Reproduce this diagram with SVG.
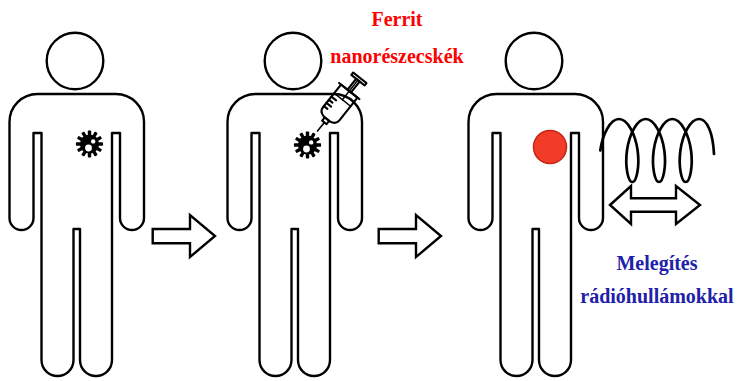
<svg xmlns="http://www.w3.org/2000/svg" xmlns:xlink="http://www.w3.org/1999/xlink" width="738" height="381" viewBox="0 0 738 381">
  <style>
    .outline { fill: #fff; stroke: #000; stroke-width: 2.4; stroke-linejoin: round; }
    .line { fill: none; stroke: #000; stroke-width: 2.1; stroke-linecap: round; stroke-linejoin: round; }
    .arrow { fill: #fff; stroke: #000; stroke-width: 2.4; stroke-linejoin: miter; }
    .coil { fill: none; stroke: #000; stroke-width: 2.7; stroke-linecap: round; }
    .label { font-family: "Liberation Serif", "Times New Roman", serif; font-weight: bold; font-size: 20px; text-anchor: middle; }
    .red { fill: #ff0000; }
    .blue { fill: #2020a8; }
  </style>
  <defs>
    <!-- standing person: head + one closed body outline -->
    <g id="person">
      <circle class="outline" cx="75" cy="61" r="28.3"/>
      <path class="outline" d="M37.5,94 H116 A28,28 0 0 1 144,122 V218 A12,12 0 0 1 120,218 V133 H112 V360 A16,16 0 0 1 80,360 V229 H73.5 V360 A16,16 0 0 1 41.5,360 V133 H33.5 V218 A12,12 0 0 1 9.5,218 V122 A28,28 0 0 1 37.5,94 Z"/>
    </g>
    <!-- germ / cell icon: cog with two holes -->
    <g id="germ">
      <circle r="9.6" fill="#000"/>
      <g fill="#000">
        <rect x="-1.7" y="-13.6" width="3.4" height="6" rx="0.8"/>
        <rect x="-1.7" y="-13.6" width="3.4" height="6" rx="0.8" transform="rotate(30)"/>
        <rect x="-1.7" y="-13.6" width="3.4" height="6" rx="0.8" transform="rotate(60)"/>
        <rect x="-1.7" y="-13.6" width="3.4" height="6" rx="0.8" transform="rotate(90)"/>
        <rect x="-1.7" y="-13.6" width="3.4" height="6" rx="0.8" transform="rotate(120)"/>
        <rect x="-1.7" y="-13.6" width="3.4" height="6" rx="0.8" transform="rotate(150)"/>
        <rect x="-1.7" y="-13.6" width="3.4" height="6" rx="0.8" transform="rotate(180)"/>
        <rect x="-1.7" y="-13.6" width="3.4" height="6" rx="0.8" transform="rotate(210)"/>
        <rect x="-1.7" y="-13.6" width="3.4" height="6" rx="0.8" transform="rotate(240)"/>
        <rect x="-1.7" y="-13.6" width="3.4" height="6" rx="0.8" transform="rotate(270)"/>
        <rect x="-1.7" y="-13.6" width="3.4" height="6" rx="0.8" transform="rotate(300)"/>
        <rect x="-1.7" y="-13.6" width="3.4" height="6" rx="0.8" transform="rotate(330)"/>
      </g>
      <circle cx="-1" cy="4" r="3.4" fill="#fff"/>
      <circle cx="3.7" cy="-2.6" r="2.2" fill="#fff"/>
    </g>
  </defs>

  <!-- patient before treatment -->
  <g id="person-1">
    <use xlink:href="#person"/>
    <use xlink:href="#germ" x="89.5" y="144"/>
  </g>

  <!-- patient receiving the injection -->
  <g id="person-2">
    <use xlink:href="#person" transform="translate(218,0)"/>
    <use xlink:href="#germ" x="307.5" y="145"/>
  </g>

  <!-- syringe, drawn along its own axis from the needle tip -->
  <g id="syringe" class="line" transform="translate(317.5,131) rotate(-51.5)">
    <line x1="0" y1="0" x2="11" y2="0" stroke-width="1.6"/>
    <rect x="11" y="-2.8" width="4.2" height="5.6"/>
    <path d="M15.2,-3.8 Q16.5,-10.5 22,-10.5 H51 V10.5 H22 Q16.5,10.5 15.2,3.8 Z"/>
    <line x1="23.5" y1="-10.5" x2="23.5" y2="-6"/>
    <line x1="27.5" y1="-10.5" x2="27.5" y2="-4.5"/>
    <line x1="31.5" y1="-10.5" x2="31.5" y2="-6"/>
    <line x1="35.5" y1="-10.5" x2="35.5" y2="-4.5"/>
    <line x1="40" y1="-10.5" x2="40" y2="10.5" stroke-width="1.5"/>
    <line x1="40" y1="0" x2="65" y2="0" stroke-width="1.5"/>
    <line x1="51" y1="-13" x2="51" y2="13"/>
    <rect x="51" y="-2.2" width="14" height="4.4"/>
    <rect x="65" y="-8.5" width="3" height="17"/>
  </g>

  <!-- patient being heated by radio waves -->
  <g id="person-3">
    <use xlink:href="#person" transform="translate(459,0)"/>
    <circle cx="550" cy="147" r="16.5" fill="#f23c27" stroke="#c42414" stroke-width="1.5"/>
  </g>

  <!-- induction coil -->
  <g id="coil">
    <path class="coil" d="M600.28,150.5 C602.5,134.01 610.44,119 618.95,119 C627.46,119 635.41,134.01 637.63,150.5 C639.86,166.99 636.36,182 632.3,182 C628.24,182 624.76,166.99 626.98,150.5 C629.21,134.01 637.15,119 645.66,119 C654.17,119 662.11,134.01 664.33,150.5 C666.56,166.99 663.07,182 659.01,182 C654.95,182 651.46,166.99 653.68,150.5 C655.91,134.01 663.85,119 672.36,119 C680.87,119 688.81,134.01 691.03,150.5 C693.26,166.99 689.77,182 685.71,182 C681.65,182 678.16,166.99 680.39,150.5 C682.61,134.01 690.55,119 699.06,119 C707.57,119 713,134 714,154"/>
  </g>

  <!-- process arrows -->
  <g id="connectors">
    <polygon class="arrow" points="152.7,229 190,229 190,215 215,236 190,257 190,243.3 152.7,243.3"/>
    <polygon class="arrow" points="378.7,229 416,229 416,215 441,236 416,257 416,243.3 378.7,243.3"/>
    <polygon class="arrow" points="610,205 631,186 631,198.3 676,198.3 676,186 700,205 676,224 676,211.7 631,211.7 631,224"/>
  </g>

  <!-- captions -->
  <g id="labels">
    <text class="label red" x="397" y="26">Ferrit</text>
    <text class="label red" x="397" y="63">nanorészecskék</text>
    <text class="label blue" x="657" y="270">Melegítés</text>
    <text class="label blue" x="657" y="303">rádióhullámokkal</text>
  </g>
</svg>
